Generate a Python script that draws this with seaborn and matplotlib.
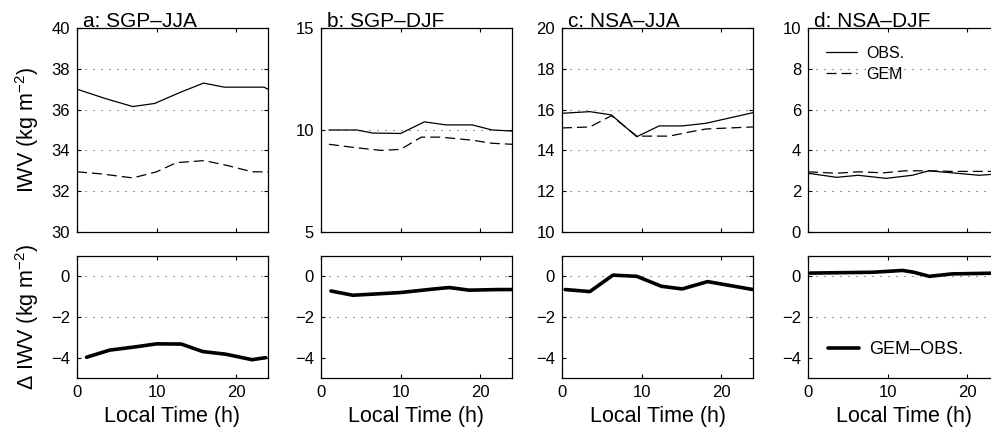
import matplotlib
matplotlib.use("Agg")
import matplotlib.pyplot as plt
import seaborn as sns
import numpy as np
import pandas as pd

# ---------------- data ----------------
titles = ["a: SGP\u2013JJA", "b: SGP\u2013DJF", "c: NSA\u2013JJA", "d: NSA\u2013DJF"]
top_ylims = [(30, 40), (5, 15), (10, 20), (0, 10)]
top_yticks = [[30, 32, 34, 36, 38, 40], [5, 10, 15], [10, 12, 14, 16, 18, 20], [0, 2, 4, 6, 8, 10]]

obs_a_t = [0, 3.5, 7, 9.75, 13, 15.9, 18.5, 21.5, 23.5, 24]
obs_a_v = [37.0, 36.55, 36.15, 36.3, 36.85, 37.3, 37.1, 37.1, 37.1, 37.0]
gem_a_t = [0, 3, 7, 10, 12.5, 16, 19, 22, 24]
gem_a_v = [32.95, 32.85, 32.65, 32.95, 33.4, 33.5, 33.25, 32.95, 32.95]

obs_b_t = [1, 4.5, 6.5, 10, 13, 15.7, 19, 21.5, 24]
obs_b_v = [10.0, 10.0, 9.85, 9.83, 10.4, 10.25, 10.25, 10.0, 9.95]
gem_b_t = [1, 4, 7.5, 10, 12.6, 15, 19, 21.5, 24]
gem_b_v = [9.3, 9.15, 9.0, 9.05, 9.65, 9.65, 9.5, 9.35, 9.3]

obs_c_t = [0, 3.5, 6.2, 9.4, 12.2, 15.1, 18.1, 24]
obs_c_v = [15.82, 15.9, 15.74, 14.67, 15.2, 15.2, 15.33, 15.85]
gem_c_t = [0, 3.5, 6.2, 9.4, 13.5, 16, 18.1, 24]
gem_c_v = [15.1, 15.15, 15.7, 14.7, 14.7, 14.9, 15.05, 15.15]

obs_d_t = [0, 3.6, 6.3, 9.8, 13.1, 15.2, 18.1, 21.5, 24]
obs_d_v = [2.88, 2.68, 2.78, 2.63, 2.78, 3.0, 2.9, 2.78, 2.85]
gem_d_t = [0, 3.6, 6.3, 9.5, 12.2, 15.2, 18.1, 24]
gem_d_v = [2.95, 2.88, 2.95, 2.9, 3.0, 3.0, 2.97, 2.97]

diff_a_t = [1.2, 4.1, 7.5, 10, 13.1, 15.8, 18.7, 22, 23.7]
diff_a_v = [-3.98, -3.63, -3.46, -3.32, -3.33, -3.7, -3.83, -4.1, -4.0]
diff_b_t = [1.25, 4, 9.9, 14, 16.1, 18.6, 22.3, 24]
diff_b_v = [-0.72, -0.93, -0.8, -0.63, -0.55, -0.68, -0.65, -0.65]
diff_c_t = [0.4, 3.5, 6.4, 9.4, 12.5, 15.1, 18.3, 24]
diff_c_v = [-0.65, -0.75, 0.06, 0.0, -0.49, -0.62, -0.26, -0.65]
diff_d_t = [0.25, 8.1, 11.9, 13.3, 15.25, 18.1, 24]
diff_d_v = [0.16, 0.2, 0.29, 0.2, 0.0, 0.12, 0.16]

obs_series = [(obs_a_t, obs_a_v), (obs_b_t, obs_b_v), (obs_c_t, obs_c_v), (obs_d_t, obs_d_v)]
gem_series = [(gem_a_t, gem_a_v), (gem_b_t, gem_b_v), (gem_c_t, gem_c_v), (gem_d_t, gem_d_v)]
diff_series = [(diff_a_t, diff_a_v), (diff_b_t, diff_b_v), (diff_c_t, diff_c_v), (diff_d_t, diff_d_v)]

xticks = [0, 10, 20]
bottom_yticks = [0, -2, -4]

# ---------------- style ----------------
sns.set_style("ticks")
plt.rcParams["font.family"] = ["Liberation Sans", "DejaVu Sans"]
plt.rcParams["mathtext.fontset"] = "custom"
plt.rcParams["mathtext.rm"] = "Liberation Sans"
plt.rcParams["mathtext.it"] = "Liberation Sans:italic"
plt.rcParams["mathtext.default"] = "regular"
plt.rcParams["text.color"] = "black"
plt.rcParams["axes.labelcolor"] = "black"
plt.rcParams["legend.labelcolor"] = "black"

W, H = 991, 436
fig = plt.figure(figsize=(W / 100, H / 100), dpi=100)
fig.patch.set_facecolor("white")

lefts = [77, 321, 562, 808]
axw = 191
top_y0, top_y1 = 28, 232
bot_y0, bot_y1 = 256, 378

grid_kw = dict(color="0.3", linewidth=0.8, linestyle=(0, (1, 6.2)))


def style_axis(ax):
    ax.set_facecolor("white")
    for s in ax.spines.values():
        s.set_color("black")
        s.set_linewidth(0.9)
    ax.tick_params(direction="in", top=True, right=True, length=3,
                   width=0.8, labelsize=12, colors="black", pad=5)
    ax.set_xlim(0, 24)
    ax.set_xticks(xticks)


for i in range(4):
    # top panel
    axt = fig.add_axes([lefts[i] / W, 1 - top_y1 / H, axw / W, (top_y1 - top_y0) / H])
    style_axis(axt)
    axt.set_ylim(*top_ylims[i])
    axt.set_yticks(top_yticks[i])
    axt.set_xticklabels([])
    for yv in top_yticks[i][1:-1]:
        axt.axhline(yv, zorder=0, **grid_kw)
    ot, ov = obs_series[i]
    gt, gv = gem_series[i]
    sns.lineplot(x=ot, y=ov, ax=axt, color="black", linewidth=0.9,
                 label="OBS.", sort=False)
    sns.lineplot(x=gt, y=gv, ax=axt, color="black", linewidth=0.9,
                 linestyle=(0, (8, 4)), label="GEM", sort=False)
    axt.set_xlabel("")
    axt.set_ylabel("")
    axt.text(0.03, 1.006, titles[i], transform=axt.transAxes, ha="left",
             va="baseline", fontsize=15, color="black")
    if i == 3:
        axt.legend(loc="upper left", frameon=False, fontsize=11.5,
                   handlelength=1.95, handletextpad=0.6,
                   borderaxespad=0.7, labelspacing=0.4)
    else:
        lg = axt.get_legend()
        if lg is not None:
            lg.remove()
    if i == 0:
        axt.set_ylabel("IWV (kg m$^{-2}$)", fontsize=15.5)
        axt.yaxis.set_label_coords(-0.19, 0.5)

    # bottom panel
    axb = fig.add_axes([lefts[i] / W, 1 - bot_y1 / H, axw / W, (bot_y1 - bot_y0) / H])
    style_axis(axb)
    axb.set_ylim(-5, 1)
    axb.set_yticks(bottom_yticks)
    for yv in bottom_yticks[:2]:
        axb.axhline(yv, zorder=0, **grid_kw)
    dt, dv = diff_series[i]
    sns.lineplot(x=dt, y=dv, ax=axb, color="black", linewidth=2.6,
                 label="GEM\u2013OBS.", sort=False)
    axb.set_xlabel("Local Time (h)", fontsize=15.5, labelpad=4)
    axb.set_ylabel("")
    if i == 3:
        axb.legend(loc="lower left", frameon=False, fontsize=13,
                   handlelength=1.7, handletextpad=0.6, borderaxespad=0.7)
    else:
        lg = axb.get_legend()
        if lg is not None:
            lg.remove()
    if i == 0:
        axb.set_ylabel("\u0394 IWV (kg m$^{-2}$)", fontsize=15.5)
        axb.yaxis.set_label_coords(-0.19, 0.5)

fig.savefig("out.png", dpi=100, facecolor="white")
